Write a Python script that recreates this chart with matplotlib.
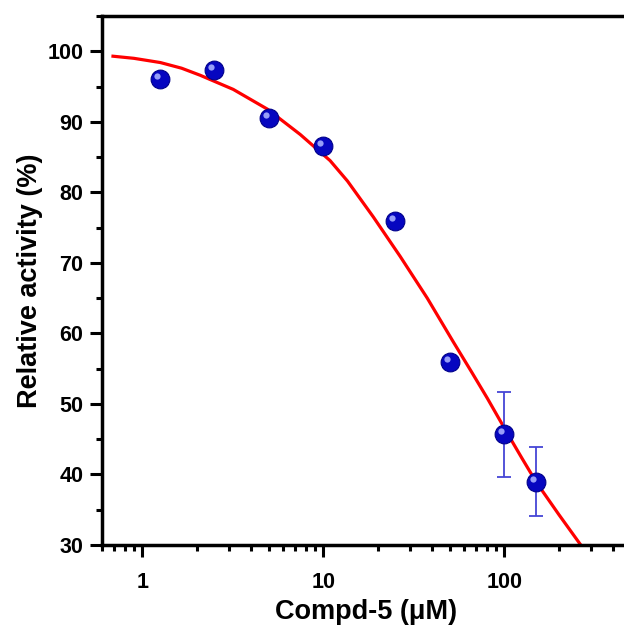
import matplotlib
matplotlib.use("Agg")
import matplotlib.pyplot as plt
import matplotlib.transforms as mtransforms
from matplotlib.ticker import LogLocator, MultipleLocator, FixedLocator, NullFormatter

plt.rcParams["font.family"] = ["Liberation Sans", "DejaVu Sans"]
plt.rcParams["font.weight"] = "bold"

# measured points
conc = [1.25, 2.5, 5, 10, 25, 50, 100, 150]
activity = [96.0, 97.4, 90.6, 86.5, 75.9, 56.0, 45.7, 39.0]
err = [0, 0, 0, 0, 0, 0, 6.0, 4.9]

# fitted dose-response curve
fit_x = [0.69, 0.9, 1.26, 1.65, 2.09, 3.18, 4.91, 7.46, 10.9, 13.6, 18.9,
         26.6, 37.5, 52.2, 66.0, 80.5, 104, 125, 150, 200, 264]
fit_y = [99.3, 99.0, 98.4, 97.6, 96.6, 94.6, 91.8, 88.2, 84.5, 81.6, 76.5,
         70.9, 65.0, 58.8, 54.5, 50.8, 45.8, 42.3, 38.9, 34.3, 30.0]

BLUE = "#0606c0"
RED = "#ff0000"

fig = plt.figure(figsize=(6.24, 6.35), dpi=100)
ax = fig.add_axes([102 / 624, 90 / 635, 529 / 624, 529 / 635])

ax.plot(fit_x, fit_y, color=RED, lw=2.3, zorder=2, solid_joinstyle="round")
ax.errorbar(conc, activity, yerr=err, fmt="none", ecolor="#4545d5",
            elinewidth=1.3, capsize=5, capthick=1.3, zorder=3)
ax.plot(conc, activity, "o", ms=13.5, color=BLUE, mec="#00008a", mew=0.8,
        zorder=4, ls="none")
# glossy highlight on each sphere
hl = ax.transData + mtransforms.ScaledTranslation(-3 / 100, 3 / 100, fig.dpi_scale_trans)
ax.plot(conc, activity, "o", ms=4.5, color="#a8b0ff", mec="none", alpha=0.9,
        transform=hl, zorder=5, ls="none")

ax.set_xscale("log")
ax.set_xlim(0.6, 500)
ax.set_ylim(30, 105)

ax.xaxis.set_major_locator(FixedLocator([1, 10, 100]))
ax.xaxis.set_major_formatter(plt.FuncFormatter(lambda v, p: f"{v:g}"))
ax.xaxis.set_minor_locator(LogLocator(base=10, subs=range(2, 10)))
ax.xaxis.set_minor_formatter(NullFormatter())
ax.yaxis.set_major_locator(MultipleLocator(10))
ax.yaxis.set_minor_locator(MultipleLocator(5))
ax.set_yticks([30, 40, 50, 60, 70, 80, 90, 100])

for s in ax.spines.values():
    s.set_linewidth(2.5)
ax.tick_params(which="major", direction="out", length=8.5, width=2.2,
               labelsize=15.5)
ax.tick_params(which="minor", direction="out", length=4.5, width=2.2)
ax.tick_params(axis="x", which="major", pad=11)
ax.tick_params(axis="y", which="major", pad=5)
for lab in ax.get_xticklabels() + ax.get_yticklabels():
    lab.set_fontweight("bold")

ax.set_xlabel("Compd-5 (\u03bcM)", fontsize=19.5, fontweight="bold", labelpad=4)
ax.set_ylabel("Relative activity (%)", fontsize=19.5, fontweight="bold", labelpad=3)

fig.savefig("out.png", dpi=100, facecolor="white")
